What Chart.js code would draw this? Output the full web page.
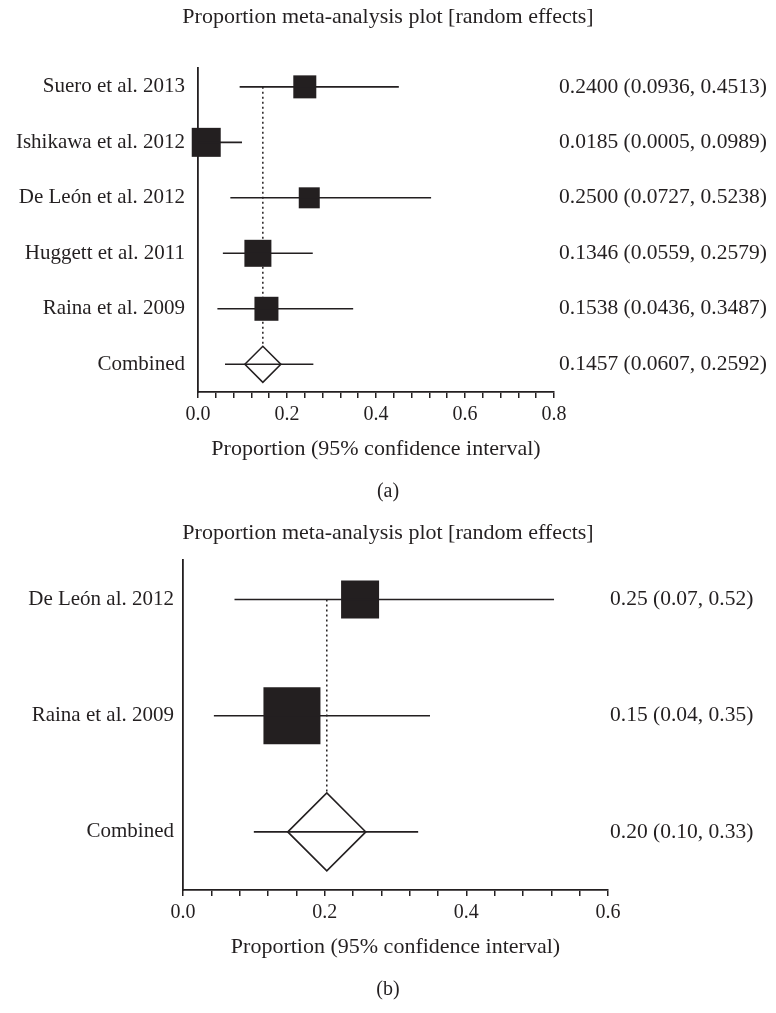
<!DOCTYPE html>
<html>
<head>
<meta charset="utf-8">
<script src="https://cdn.jsdelivr.net/npm/chart.js@4.4.0/dist/chart.umd.min.js"></script>
<style>
  body { margin: 0; background: #fff; }
  canvas { display: block; }
</style>
</head>
<body>
<canvas id="plotA" width="776" height="510"></canvas>
<canvas id="plotB" width="776" height="503"></canvas>
<script>
// (a) five studies + pooled estimate
const studiesA = ['Suero et al. 2013', 'Ishikawa et al. 2012', 'De León et al. 2012', 'Huggett et al. 2011', 'Raina et al. 2009', 'Combined'];
const estA  = [0.2400, 0.0185, 0.2500, 0.1346, 0.1538, 0.1457];
const lowA  = [0.0936, 0.0005, 0.0727, 0.0559, 0.0436, 0.0607];
const highA = [0.4513, 0.0989, 0.5238, 0.2579, 0.3487, 0.2592];
const xMaxA = 0.8;

// (b) two studies + pooled estimate
const studiesB = ['De León al. 2012', 'Raina et al. 2009', 'Combined'];
const estB  = [0.2500, 0.1538, 0.203];
const lowB  = [0.0727, 0.0436, 0.100];
const highB = [0.5238, 0.3487, 0.332];
const xMaxB = 0.6;

const minorStep = 0.04;
const majorStep = 0.2;

const ink = '#231f20';
const serif = 'Liberation Serif';
Chart.defaults.font.family = serif;
Chart.defaults.color = ink;

function forestPlot(id, o) {
    const n = o.names.length;
    const pooled = n - 1;
    const datasets = [];

    // confidence interval whiskers (on top of everything)
    for (let i = 0; i < n; i++) {
        datasets.push({
            data: [{x: o.low[i], y: i}, {x: o.high[i], y: i}],
            showLine: true,
            borderColor: ink,
            borderWidth: 1.6,
            pointRadius: 0,
            clip: false,
            order: 0
        });
    }
    // study boxes
    datasets.push({
        data: o.est.slice(0, pooled).map((v, i) => ({x: v, y: i})),
        pointStyle: 'rect',
        pointRadius: o.boxes.map(s => s / Math.SQRT2),
        pointBackgroundColor: ink,
        pointBorderWidth: 0,
        clip: false,
        order: 1
    });
    // pooled diamond
    datasets.push({
        data: [{x: o.est[pooled], y: pooled}],
        pointStyle: 'rectRot',
        pointRadius: o.diamond,
        pointBackgroundColor: '#fff',
        pointBorderColor: ink,
        pointBorderWidth: 1.6,
        clip: false,
        order: 2
    });
    // dotted line at the pooled estimate
    datasets.push({
        data: [{x: o.est[pooled], y: 0}, {x: o.est[pooled], y: pooled}],
        showLine: true,
        borderColor: ink,
        borderWidth: 1.5,
        borderDash: [2, 3],
        pointRadius: 0,
        order: 3
    });

    const rowTicks = s => { s.ticks = o.names.map((_, i) => ({value: i})); };
    const yMin = -0.34, yMax = n - 1 + 0.5;

    new Chart(document.getElementById(id), {
        type: 'scatter',
        data: { datasets: datasets },
        options: {
            responsive: false,
            animation: false,
            events: [],
            layout: { padding: 0 },
            scales: {
                x: {
                    type: 'linear', min: 0, max: o.xMax,
                    ticks: {
                        stepSize: minorStep, autoSkip: false, maxRotation: 0, minRotation: 0,
                        padding: 5, color: ink, font: { size: 20 },
                        callback: v => {
                            const k = v / majorStep;
                            return Math.abs(k - Math.round(k)) < 1e-6 ? v.toFixed(1) : '';
                        }
                    },
                    grid: { display: true, drawOnChartArea: false, drawTicks: true, tickLength: 6, color: ink, lineWidth: 1.5 },
                    border: { display: true, color: ink, width: 1.8 },
                    title: {
                        display: true, text: 'Proportion (95% confidence interval)', color: ink,
                        font: { size: 22 }, padding: { top: 0, bottom: 17.8 }
                    },
                    afterFit: s => { s.height = 88; }
                },
                y: {
                    type: 'linear', reverse: true, min: yMin, max: yMax,
                    afterBuildTicks: rowTicks,
                    ticks: { callback: (v, i) => o.names[i], padding: o.leftPad, color: ink, font: { size: 21 } },
                    grid: { display: false, drawTicks: false },
                    border: { display: true, color: ink, width: 1.8 },
                    afterFit: s => { s.width = o.left; }
                },
                y2: {
                    type: 'linear', position: 'right', reverse: true, min: yMin, max: yMax,
                    afterBuildTicks: rowTicks,
                    ticks: {
                        callback: (v, i) => o.est[i].toFixed(o.dec) + ' (' + o.low[i].toFixed(o.dec) + ', ' + o.high[i].toFixed(o.dec) + ')',
                        padding: o.rightPad, color: ink, font: { size: 21.5 }
                    },
                    grid: { display: false, drawTicks: false },
                    border: { display: false },
                    afterFit: s => { s.width = o.right; }
                }
            },
            plugins: {
                legend: { display: false },
                tooltip: { enabled: false },
                title: {
                    display: true, text: 'Proportion meta-analysis plot [random effects]', color: ink,
                    font: { size: 22, weight: 'normal' }, padding: o.titlePad
                },
                subtitle: {
                    display: true, position: 'bottom', text: o.tag, color: ink,
                    font: { size: 20, weight: 'normal' }, padding: o.tagPad
                }
            }
        }
    });
}

forestPlot('plotA', {
    names: studiesA, est: estA, low: lowA, high: highA, xMax: xMaxA, dec: 4,
    boxes: [23, 29, 21, 27, 24], diamond: 18,
    left: 198, right: 222, leftPad: 13, rightPad: 5,
    titlePad: { top: 3.8, bottom: 37.8 }, tag: '(a)', tagPad: { top: 0, bottom: 6 }
});

forestPlot('plotB', {
    names: studiesB, est: estB, low: lowB, high: highB, xMax: xMaxB, dec: 2,
    boxes: [38, 57], diamond: 39,
    left: 183, right: 168, leftPad: 9, rightPad: 2,
    titlePad: { top: 9.8, bottom: 13.8 }, tag: '(b)', tagPad: { top: 0, bottom: 11 }
});
</script>
</body>
</html>
